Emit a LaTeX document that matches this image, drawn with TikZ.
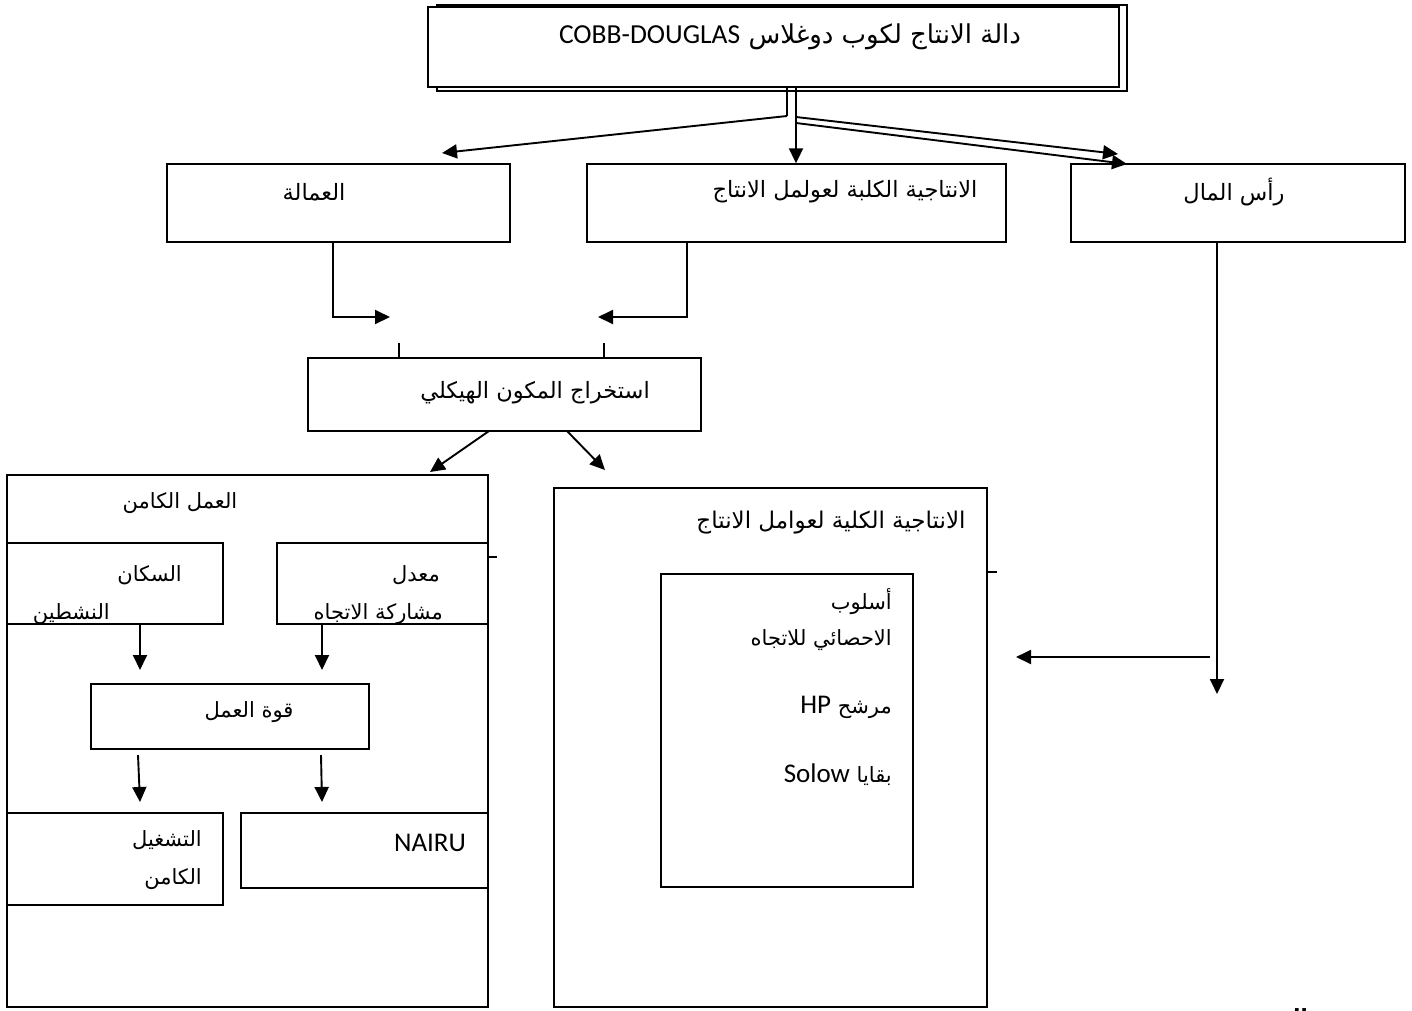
\documentclass[tikz,border=0pt]{standalone}
\usepackage{fontspec}
\setmainfont{Carlito}
\newfontfamily\arabicfont[Script=Arabic]{DejaVu Sans}
\TeXXeTstate=1
\usetikzlibrary{arrows.meta,calc}
\tikzset{
  x=1pt,y=-1pt,
  box/.style={draw, line width=1.4pt, inner sep=0pt, fill=white},
  conn/.style={line width=1.9pt, -{Triangle[length=15pt,width=14pt]}},
  plain/.style={line width=1.9pt},
  arA/.style={inner sep=0pt, font=\arabicfont\fontsize{22.5}{26}\selectfont},
  arB/.style={inner sep=0pt, font=\arabicfont\fontsize{21}{24}\selectfont},
  lat/.style={inner sep=0pt, font=\fontsize{27}{30}\selectfont},
}
\begin{document}
\begin{tikzpicture}
\useasboundingbox[fill=white] (0,0) rectangle (1412,1010);

% top box with shadow
\node[box, line width=1.2pt, minimum width=690pt, minimum height=86pt] (topsh) at (782,48) {};
\node[box, line width=1.8pt, minimum width=691pt, minimum height=80pt] (top) at (773.5,47) {};
\node[inner sep=0pt, font=\arabicfont\fontsize{26}{28}\selectfont] (ttop) at (790,37) {\beginR دالة الانتاج لكوب دوغلاس \beginL{\fontspec{Carlito}\fontsize{27.5}{30}\selectfont COBB-DOUGLAS}\endL\endR};

% second row
\node[box, minimum width=343pt, minimum height=78pt] (lab) at (338.5,203) {};
\node[box, minimum width=419pt, minimum height=78pt] (tfpa) at (796.5,203) {};
\node[box, minimum width=334pt, minimum height=78pt] (cap) at (1238,203) {};
\node[arA] (tlab) at (314,192) {\beginR العمالة\endR};
\node[arA] (ttfpa) at (845,192) {\beginR الانتاجية الكلبة لعولمل الانتاج\endR};
\node[arA] (tcap) at (1234,192) {\beginR رأس المال\endR};

% extraction box
\node[box, minimum width=393pt, minimum height=73pt] (ext) at (504.5,394.5) {};
\node[arA] (text) at (535,393) {\beginR استخراج المكون الهيكلي\endR};

% left big box
\node[box, minimum width=481pt, minimum height=532pt] (lbig) at (247.5,741) {};
\node[arB] (tlbig) at (180,503) {\beginR العمل الكامن\endR};
\node[box, minimum width=216pt, minimum height=81pt] (pop) at (115,583.5) {};
\node[box, minimum width=211pt, minimum height=81pt] (part) at (382.5,583.5) {};
\node[arB, anchor=east] (tpop) at (182,575) {\beginR السكان\endR};
\node[arB, anchor=east] (tpart) at (440,575) {\beginR معدل\endR};
\begin{scope}
\clip (7,543) rectangle (223,623);
\node[arB, anchor=east] (tpop2) at (110,614) {\beginR النشطين\endR};
\end{scope}
\begin{scope}
\clip (277,543) rectangle (488,623);
\node[arB, anchor=east] (tpart2) at (443,614) {\beginR مشاركة الاتجاه\endR};
\end{scope}
\node[box, minimum width=278pt, minimum height=65pt] (lf) at (230,716.5) {};
\node[arB] (tlf) at (249,712) {\beginR قوة العمل\endR};
\node[box, minimum width=216pt, minimum height=92pt] (emp) at (115,859) {};
\node[box, minimum width=247pt, minimum height=75pt] (nairu) at (364.5,850.5) {};
\node[arB, anchor=east] (temp1) at (202,840) {\beginR التشغيل\endR};
\node[arB, anchor=east] (temp2) at (202,879) {\beginR الكامن\endR};
\node[lat] (tnairu) at (430,843) {NAIRU};

% right big box
\node[box, minimum width=433pt, minimum height=519pt] (rbig) at (770.5,747.5) {};
\node[arB, font=\arabicfont\fontsize{23}{26}\selectfont] (trbig) at (831,523) {\beginR الانتاجية الكلية لعوامل الانتاج\endR};
\node[box, minimum width=252pt, minimum height=313pt] (inner) at (787,730.5) {};
\node[arB, anchor=east] (ti1) at (892,602) {\beginR أسلوب\endR};
\node[arB, anchor=east] (ti2) at (892,640) {\beginR الاحصائي للاتجاه\endR};
\node[arB, anchor=east] (ti3) at (892,707) {\beginR مرشح \beginL{\fontspec{Carlito}\fontsize{27}{30}\selectfont HP}\endL\endR};
\node[arB, anchor=east] (ti4) at (892,775) {\beginR بقايا \beginL{\fontspec{Carlito}\fontsize{27}{30}\selectfont Solow}\endL\endR};

% source fragment (cut by the lower edge, as in the reference)
\node[anchor=east, inner sep=0pt, font=\arabicfont\bfseries\fontsize{21}{24}\selectfont] (src) at (1308,1019) {\beginR المصدر:\endR};

% connectors from top box
\coordinate (jL) at (787,116);
\coordinate (jR) at (796,117);
\coordinate (jR2) at (796,123);
\coordinate (aL) at (442,153);
\coordinate (aR1) at (1118,154);
\coordinate (aR2) at (1127,164);
\draw[line width=1.5pt] (jL |- top.south) -- (jL);
\draw[line width=1.5pt] (jR |- top.south) -- (jR2);
\draw[conn] (jR |- top.south) -- (jR |- tfpa.north);
\draw[conn] (jL) -- (aL);
\draw[conn] (jR) -- (aR1);
\draw[conn] (jR2) -- (aR2);

% to extraction
\coordinate (l1) at (333,242);
\coordinate (l1e) at (390,317);
\coordinate (r1) at (687,242);
\coordinate (r1e) at (598,317);
\draw[line width=2.6pt] (275,242) -- (335,242);
\draw[line width=2.6pt] (687,242) -- (774,242);
\draw[conn] (l1) |- (l1e);
\draw[conn] (r1) |- (r1e);
\coordinate (tk1) at (399,343);
\coordinate (tk2) at (604,343);
\draw[plain] (tk1) -- (tk1 |- ext.north);
\draw[plain] (tk2) -- (tk2 |- ext.north);

% from extraction
\coordinate (e1) at (489,431);
\coordinate (e1e) at (430,472);
\coordinate (e2) at (567,431);
\coordinate (e2e) at (605,470);
\draw[conn] (e1) -- (e1e);
\draw[conn] (e2) -- (e2e);

% ticks
\coordinate (tk3) at (497,557);
\coordinate (tk4) at (997,572);
\draw[plain] (lbig.east |- tk3) -- (tk3);
\draw[plain] (rbig.east |- tk4) -- (tk4);

% inside left box
\coordinate (p1) at (140,624);
\coordinate (p1e) at (140,670);
\coordinate (p2) at (322,624);
\coordinate (p2e) at (322,670);
\coordinate (q1) at (138,755);
\coordinate (q1e) at (140,802);
\coordinate (q2) at (321,755);
\coordinate (q2e) at (322,802);
\draw[conn] (p1) -- (p1e);
\draw[conn] (p2) -- (p2e);
\draw[conn] (q1) -- (q1e);
\draw[conn] (q2) -- (q2e);

% capital connectors
\coordinate (c1) at (1217,242);
\coordinate (c1e) at (1217,694);
\coordinate (c2) at (1210,657);
\coordinate (c2e) at (1016,657);
\draw[conn] (c1) -- (c1e);
\draw[conn] (c2) -- (c2e);
\end{tikzpicture}
\end{document}
